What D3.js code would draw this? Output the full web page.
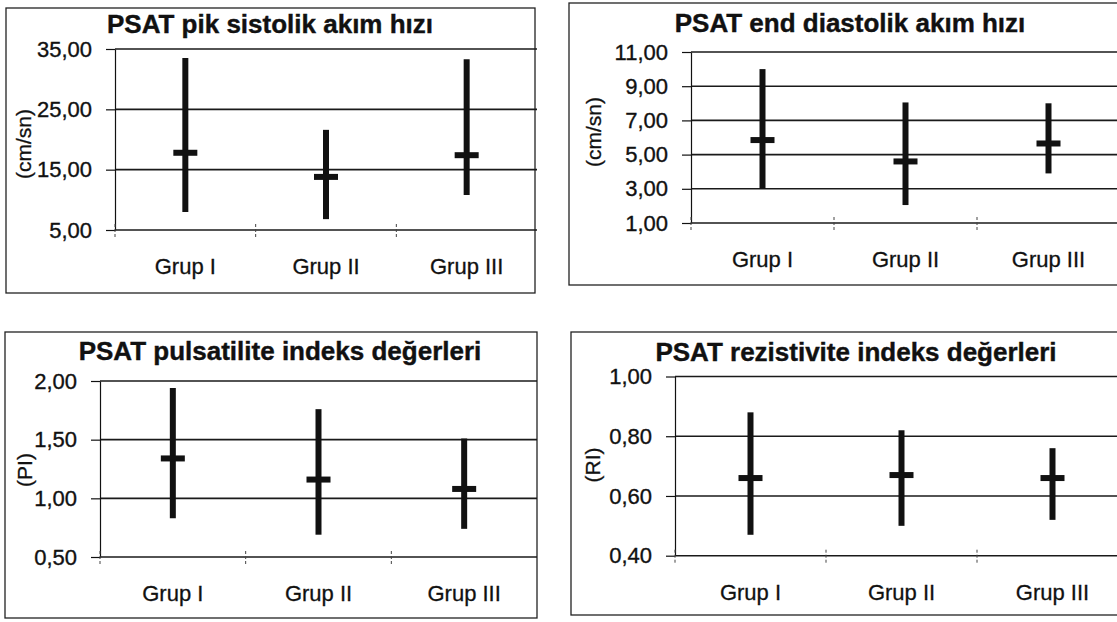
<!DOCTYPE html>
<meta charset="utf-8">
<head>
    <title>PSAT</title>
</head>

<style>
body { margin: 0; background: #fff; }
svg { font-family: "Liberation Sans", Arial, sans-serif; }

.frame { fill: none; stroke: #222; stroke-width: 1.3; }
.grid line { stroke: #1a1a1a; stroke-width: 1.6; }
.axis path { stroke: #111; stroke-width: 1.2; fill: none; }
.axis line { stroke: #111; stroke-width: 1.2; }
.axis text { font-size: 22px; fill: #111; stroke: #111; stroke-width: 0.35; }
.sep { stroke: #444; stroke-width: 1; stroke-dasharray: 3,2; }
.cat { font-size: 22px; fill: #111; stroke: #111; stroke-width: 0.3; text-anchor: middle; }
.title { font-size: 26px; font-weight: bold; fill: #111; stroke: #111; stroke-width: 0.4; text-anchor: middle; }
.ylab { font-size: 21px; fill: #111; stroke: #111; stroke-width: 0.3; text-anchor: middle; }
.range { stroke: #111; stroke-width: 6; }
.mean { fill: #111; }
</style>
<body>
<script src="https://cdn.jsdelivr.net/npm/d3@7/dist/d3.min.js"></script>
<script>

var categories = ["Grup I", "Grup II", "Grup III"];

// pik sistolik (cm/sn)
var pikMin  = [8.0, 6.8, 10.8];
var pikMax  = [33.5, 21.6, 33.3];
var pikMean = [17.8, 13.8, 17.4];
var pikTicks = [5, 15, 25, 35];

// end diastolik (cm/sn)
var endMin  = [3.0, 2.05, 3.9];
var endMax  = [10.0, 8.05, 8.0];
var endMean = [5.85, 4.6, 5.65];
var endTicks = [1, 3, 5, 7, 9, 11];

// pulsatilite indeks
var piMin  = [0.83, 0.69, 0.74];
var piMax  = [1.94, 1.76, 1.51];
var piMean = [1.34, 1.16, 1.08];
var piTicks = [0.5, 1.0, 1.5, 2.0];

// rezistivite indeks
var riMin  = [0.47, 0.50, 0.52];
var riMax  = [0.88, 0.82, 0.76];
var riMean = [0.66, 0.67, 0.66];
var riTicks = [0.4, 0.6, 0.8, 1.0];

var fmt = d3.formatLocale({decimal: ",", thousands: ".", grouping: [3], currency: ["", ""]}).format(".2f");

var panels = [
  {title: "PSAT pik sistolik akım hızı", ylab: "(cm/sn)", lo: pikMin, hi: pikMax, mean: pikMean, ticks: pikTicks,
   frame: [6, 8, 535, 293], plot: [115, 49, 537, 230], tx: 270, ty: 33, lx: 24, ly: 144},
  {title: "PSAT end diastolik akım hızı", ylab: "(cm/sn)", lo: endMin, hi: endMax, mean: endMean, ticks: endTicks,
   frame: [569, 3, 1130, 285], plot: [691, 52, 1120, 223], tx: 850, ty: 32, lx: 594, ly: 132},
  {title: "PSAT pulsatilite indeks değerleri", ylab: "(PI)", lo: piMin, hi: piMax, mean: piMean, ticks: piTicks,
   frame: [5, 332, 537, 618], plot: [100, 381, 537, 557], tx: 280, ty: 360, lx: 25, ly: 470},
  {title: "PSAT rezistivite indeks değerleri", ylab: "(RI)", lo: riMin, hi: riMax, mean: riMean, ticks: riTicks,
   frame: [571, 332, 1130, 615], plot: [675, 376.5, 1128, 555.7], tx: 856, ty: 361, lx: 593, ly: 465}
];

var svg = d3.select("body").append("svg")
    .attr("width", 1117)
    .attr("height", 622);

panels.forEach(function(p) {
  var x0 = p.plot[0], y0 = p.plot[1], x1 = p.plot[2], y1 = p.plot[3];
  var g = svg.append("g");

  // outer frame
  g.append("rect")
      .attr("class", "frame")
      .attr("x", p.frame[0])
      .attr("y", p.frame[1])
      .attr("width", p.frame[2] - p.frame[0])
      .attr("height", p.frame[3] - p.frame[1]);

  var y = d3.scaleLinear()
      .domain(d3.extent(p.ticks))
      .range([y1, y0]);

  var x = d3.scaleBand()
      .domain(categories)
      .range([x0, x1]);

  // gridlines
  g.append("g")
      .attr("class", "grid")
    .selectAll("line")
      .data(p.ticks)
    .enter().append("line")
      .attr("x1", x0)
      .attr("x2", x1)
      .attr("y1", function(d) { return y(d); })
      .attr("y2", function(d) { return y(d); });

  // y axis
  g.append("g")
      .attr("class", "axis")
      .attr("transform", "translate(" + x0 + ",0)")
      .call(d3.axisLeft(y).tickValues(p.ticks).tickFormat(fmt).tickSizeInner(9).tickSizeOuter(0).tickPadding(14));

  // category separators (left edge and between groups)
  g.selectAll(".sep")
      .data(categories)
    .enter().append("line")
      .attr("class", "sep")
      .attr("x1", function(d) { return x(d); })
      .attr("x2", function(d) { return x(d); })
      .attr("y1", y1 - 6)
      .attr("y2", y1 + 9);

  // category labels
  g.selectAll(".cat")
      .data(categories)
    .enter().append("text")
      .attr("class", "cat")
      .attr("x", function(d) { return x(d) + x.bandwidth() / 2; })
      .attr("y", y1 + 44)
      .text(function(d) { return d; });

  // min-max bars
  g.selectAll(".range")
      .data(categories)
    .enter().append("line")
      .attr("class", "range")
      .attr("x1", function(d) { return x(d) + x.bandwidth() / 2; })
      .attr("x2", function(d) { return x(d) + x.bandwidth() / 2; })
      .attr("y1", function(d, i) { return y(p.lo[i]); })
      .attr("y2", function(d, i) { return y(p.hi[i]); });

  // mean marks
  g.selectAll(".mean")
      .data(categories)
    .enter().append("rect")
      .attr("class", "mean")
      .attr("x", function(d) { return x(d) + x.bandwidth() / 2 - 12; })
      .attr("y", function(d, i) { return y(p.mean[i]) - 3; })
      .attr("width", 24)
      .attr("height", 6);

  // title
  g.append("text")
      .attr("class", "title")
      .attr("x", p.tx)
      .attr("y", p.ty)
      .text(p.title);

  // y axis label
  g.append("text")
      .attr("class", "ylab")
      .attr("transform", "translate(" + p.lx + "," + p.ly + ") rotate(-90)")
      .attr("dy", "0.35em")
      .text(p.ylab);
});

</script>
</body>
